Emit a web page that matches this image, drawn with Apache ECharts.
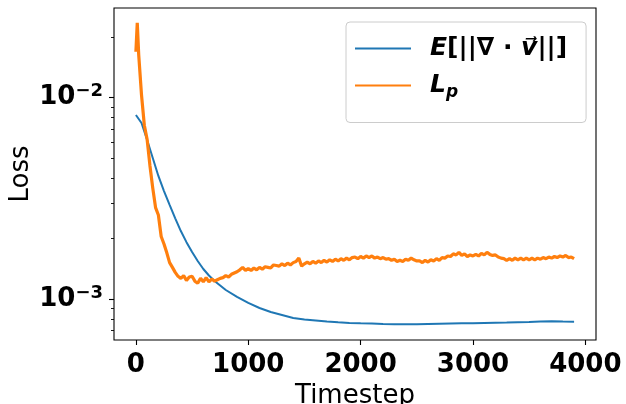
<!DOCTYPE html>
<html><head><meta charset="utf-8">
<script src="https://cdn.jsdelivr.net/npm/echarts@6/dist/echarts.min.js"></script>
<style>html,body{margin:0;padding:0;background:#fff}#c{width:626px;height:404px}</style>
</head><body><div id="c"></div>
<script>
// ---- data ----
const blueSteps = [0,50,100,150,200,250,300,350,400,450,500,550,600,650,700,800,900,1000,1100,1200,1300,1400,1500,1600,1700,1800,1900,2000,2100,2200,2300,2400,2500,2600,2700,2800,2900,3000,3100,3200,3300,3400,3500,3600,3700,3800,3900];
const blueLoss = [8.21e-3,7.49e-3,6.17e-3,5.02e-3,4.09e-3,3.44e-3,2.94e-3,2.52e-3,2.18e-3,1.92e-3,1.716e-3,1.549e-3,1.413e-3,1.312e-3,1.233e-3,1.112e-3,1.027e-3,9.59e-4,9.05e-4,8.65e-4,8.36e-4,8.08e-4,7.94e-4,7.85e-4,7.76e-4,7.69e-4,7.63e-4,7.60e-4,7.58e-4,7.54e-4,7.52e-4,7.52e-4,7.52e-4,7.54e-4,7.56e-4,7.58e-4,7.60e-4,7.61e-4,7.63e-4,7.65e-4,7.67e-4,7.70e-4,7.71e-4,7.75e-4,7.79e-4,7.75e-4,7.74e-4];

const orangeSteps = [0, 12];
for (let s = 25; s <= 3900; s += 25) orangeSteps.push(s);
const orangeLoss = [
  1.69e-2, 2.35e-2,
  1.63e-2,1.03e-2,7.3e-3,6.2e-3,4.6e-3,3.56e-3,2.85e-3,2.62e-3,2.05e-3,1.88e-3,
  1.70e-3,1.52e-3,1.44e-3,1.36e-3,1.30e-3,1.27e-3,1.31e-3,1.24e-3,1.29e-3,1.30e-3,
  1.23e-3,1.20e-3,1.27e-3,1.22e-3,1.28e-3,1.22e-3,1.26e-3,1.23e-3,1.25e-3,1.27e-3,
  1.28e-3,1.31e-3,1.29e-3,1.33e-3,1.35e-3,1.37e-3,1.40e-3,1.44e-3,1.39e-3,1.42e-3,
  1.39e-3,1.43e-3,1.40e-3,1.44e-3,1.41e-3,1.45e-3,1.44e-3,1.43e-3,1.48e-3,1.47e-3,
  1.46e-3,1.50e-3,1.47e-3,1.51e-3,1.48e-3,1.52e-3,1.54e-3,1.60e-3,1.46e-3,1.50e-3,
  1.53e-3,1.50e-3,1.54e-3,1.51e-3,1.55e-3,1.52e-3,1.56e-3,1.53e-3,1.57e-3,1.54e-3,
  1.58e-3,1.55e-3,1.59e-3,1.56e-3,1.60e-3,1.57e-3,1.61e-3,1.62e-3,1.59e-3,1.63e-3,
  1.60e-3,1.64e-3,1.61e-3,1.64e-3,1.60e-3,1.62e-3,1.59e-3,1.61e-3,1.58e-3,1.59e-3,
  1.56e-3,1.58e-3,1.54e-3,1.56e-3,1.54e-3,1.58e-3,1.56e-3,1.60e-3,1.57e-3,1.55e-3,
  1.55e-3,1.52e-3,1.56e-3,1.53e-3,1.57e-3,1.55e-3,1.59e-3,1.56e-3,1.61e-3,1.60e-3,
  1.64e-3,1.63e-3,1.68e-3,1.66e-3,1.71e-3,1.65e-3,1.68e-3,1.63e-3,1.66e-3,1.64e-3,
  1.67e-3,1.64e-3,1.69e-3,1.66e-3,1.71e-3,1.67e-3,1.65e-3,1.66e-3,1.62e-3,1.60e-3,
  1.59e-3,1.56e-3,1.59e-3,1.56e-3,1.60e-3,1.57e-3,1.60e-3,1.57e-3,1.60e-3,1.57e-3,
  1.60e-3,1.57e-3,1.60e-3,1.58e-3,1.61e-3,1.59e-3,1.62e-3,1.60e-3,1.63e-3,1.61e-3,
  1.64e-3,1.62e-3,1.65e-3,1.61e-3,1.62e-3,1.59e-3
];

const xTicks = [0, 1000, 2000, 3000, 4000];
const yMajorTicks = [1e-3, 1e-2];
const yMinorTicks = [7e-4, 8e-4, 9e-4, 2e-3, 3e-3, 4e-3, 5e-3, 6e-3, 7e-3, 8e-3, 9e-3, 2e-2];
const seriesNames = ['div', 'lp'];
const xName = 'Timestep';
const yName = 'Loss';

// ---- chart ----
const FONT = 'DejaVu Sans';
const chart = echarts.init(document.getElementById('c'), null, {renderer: 'canvas'});
const yMin = 6.28e-4, yMax = 2.786e-2;

chart.setOption({
  animation: false,
  backgroundColor: '#fff',
  grid: {left: 114, right: 30, top: 8, bottom: 64, show: true, borderColor: '#000', borderWidth: 1.1,
         containLabel: false, outerBoundsMode: 'none'},
  xAxis: {
    type: 'value', min: -195, max: 4095,
    splitLine: {show: false}, axisLine: {show: false, onZero: false},
    axisTick: {show: true, customValues: xTicks, length: 5, lineStyle: {color: '#000', width: 1.1}},
    axisLabel: {customValues: xTicks, formatter: v => String(v), fontFamily: FONT, fontWeight: 'bold', fontSize: 26, color: '#000', margin: 12},
    name: xName, nameLocation: 'middle', nameGap: 40,
    nameTextStyle: {fontFamily: FONT, fontSize: 26, color: '#000'}
  },
  yAxis: [{
    type: 'log', logBase: 10, min: yMin, max: yMax,
    splitLine: {show: false}, axisLine: {show: false, onZero: false},
    axisTick: {show: true, customValues: yMajorTicks, length: 5, lineStyle: {color: '#000', width: 1.1}},
    axisLabel: {
      customValues: yMajorTicks, margin: 11, color: '#000',
      formatter: v => '{b|10}{s|\u2212' + Math.round(-Math.log10(v)) + '}',
      rich: {
        b: {fontFamily: FONT, fontWeight: 'bold', fontSize: 26, lineHeight: 30, color: '#000'},
        s: {fontFamily: FONT, fontWeight: 'bold', fontSize: 18, lineHeight: 18, verticalAlign: 'top', color: '#000'}
      }
    },
    name: yName, nameLocation: 'middle', nameGap: 80, nameRotate: 90, nameMoveOverlap: false,
    nameTextStyle: {fontFamily: FONT, fontSize: 26, color: '#000'}
  }, {
    type: 'log', logBase: 10, min: yMin, max: yMax, position: 'left',
    splitLine: {show: false}, axisLine: {show: false, onZero: false},
    axisTick: {show: true, customValues: yMinorTicks, length: 3, lineStyle: {color: '#000', width: 0.9}},
    axisLabel: {show: false}
  }],
  legend: {
    orient: 'vertical', left: 346, top: 22,
    data: seriesNames, icon: 'rect', itemWidth: 56, itemHeight: 2, itemGap: 12,
    padding: [14, 19, 21, 9], borderColor: '#cccccc', borderWidth: 1, borderRadius: 4,
    backgroundColor: 'rgba(255,255,255,0.8)',
    formatter: n => n === 'div'
      ? '{bi|E}{b|[||\u2207 \u00b7 }{bi|v\u20d7}{b|||]}'
      : '{bi|L}{sub|p}',
    textStyle: {
      padding: [0, 0, 0, 14],
      rich: {
        bi: {fontFamily: FONT, fontSize: 25, fontWeight: 'bold', fontStyle: 'italic', color: '#000', lineHeight: 32},
        b: {fontFamily: FONT, fontSize: 25, fontWeight: 'bold', color: '#000', lineHeight: 32},
        sub: {fontFamily: FONT, fontSize: 17, fontWeight: 'bold', fontStyle: 'italic', color: '#000', lineHeight: 17, verticalAlign: 'bottom'}
      }
    }
  },
  series: [{
    name: 'div', type: 'line', showSymbol: false, yAxisIndex: 0,
    data: blueSteps.map((s, i) => [s, blueLoss[i]]),
    lineStyle: {color: '#1f77b4', width: 2}, itemStyle: {color: '#1f77b4'}, z: 3
  }, {
    name: 'lp', type: 'line', showSymbol: false, yAxisIndex: 0,
    data: orangeSteps.map((s, i) => [s, orangeLoss[i]]),
    lineStyle: {color: '#ff7f0e', width: 3.2}, itemStyle: {color: '#ff7f0e'}, z: 4
  }]
});
</script></body></html>
